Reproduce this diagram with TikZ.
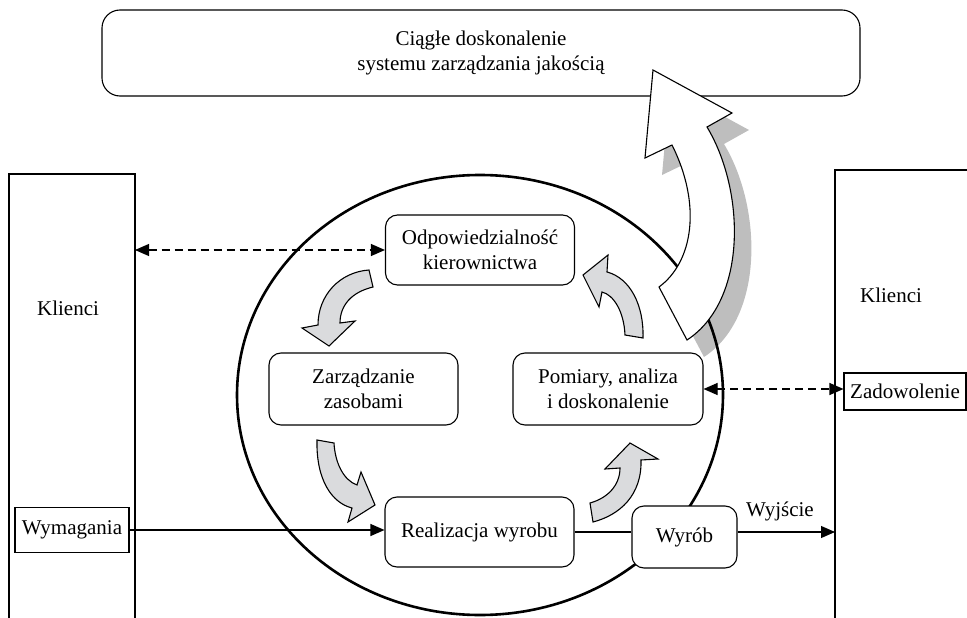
\documentclass[tikz,border=0pt]{standalone}
\usepackage{fontspec}
\setmainfont{Liberation Serif}
\usetikzlibrary{arrows.meta}
\definecolor{arrowgray}{HTML}{DADBDD}
\definecolor{shadowgray}{HTML}{BEBEBE}
\begin{document}
\begin{tikzpicture}[x=1pt,y=-1pt,
  every node/.style={font=\fontsize{21}{25}\selectfont},
  rbox/.style={draw,line width=1.1pt,rounded corners=12pt,fill=white,inner sep=0pt,align=center},
  sqbox/.style={draw,line width=1.1pt,fill=white,inner sep=0pt},
  conn/.style={line width=1.1pt},
  tipend/.style={-{Triangle[length=14pt,width=12pt]}},
  dashboth/.style={{Triangle[length=14pt,width=12pt]}-{Triangle[length=14pt,width=12pt]},dash pattern=on 8pt off 5pt},
  garrow/.style={fill=arrowgray,draw,line width=1.1pt,line join=miter},
  bigarrow/.style={fill=white,draw,line width=1.1pt,line join=miter}]
\useasboundingbox (0,0) rectangle (967,618);

% customer boxes (cut by the picture edge)
\draw[line width=1.1pt] (9,625) |- (135,174) -- (135,625);
\coordinate (clTR) at (135,174);
\draw[line width=1.1pt] (835,625) |- (975,170);
\coordinate (crTL) at (835,170);
\node (kl) at (68,308) {Klienci};
\node (kr) at (891,295) {Klienci};

% top box
\node[rbox,rounded corners=18pt,minimum width=758pt,minimum height=86pt] (top) at (481,53)
  {Ciągłe doskonalenie\\systemu zarządzania jakością};

% shadow of the big arrow
\begin{scope}[shift={(17,17)}]
\fill[shadowgray] (653,70) -- (732,113) -- (707,127) .. controls (745,190) and (748,300) .. (687,340)
  -- (659,287) .. controls (693,262) and (702,205) .. (672,145) -- (645,158) -- cycle;
\end{scope}

% process circle
\draw[line width=2.6pt] (480,395) ellipse [x radius=243, y radius=220];

% big white arrow
\draw[bigarrow] (653,70) -- (732,113) -- (707,127) .. controls (745,190) and (748,300) .. (687,340)
  -- (659,287) .. controls (693,262) and (702,205) .. (672,145) -- (645,158) -- cycle;

% process boxes
\node[rbox,minimum width=189pt,minimum height=70pt] (odp) at (480,250) {Odpowiedzialność\\kierownictwa};
\node[rbox,minimum width=189pt,minimum height=72pt] (zarz) at (363.5,389) {Zarządzanie\\zasobami};
\node[rbox,minimum width=190pt,minimum height=72pt] (pom) at (608,389) {Pomiary, analiza\\i doskonalenie};
\node[rbox,minimum width=189pt,minimum height=70pt] (real) at (479.5,532) {Realizacja wyrobu};
\node[rbox,minimum width=105pt,minimum height=62pt] (wyrob) at (684.5,537) {Wyrób};

% input / output boxes
\node[sqbox,minimum width=114pt,minimum height=45pt] (wym) at (72,530) {Wymagania};
\node[sqbox,minimum width=122pt,minimum height=37pt] (zad) at (905,391.5) {Zadowolenie};

% gray cycle arrows
\draw[garrow] (369,270) .. controls (340,272) and (318,295) .. (318,325) -- (302,328) -- (329,346)
  -- (355,321) -- (340,323) .. controls (340,305) and (352,292) .. (373,287) -- cycle;
\draw[garrow] (317,440) -- (334,443) .. controls (335,462) and (343,480) .. (357,485) -- (361,472)
  -- (375,505) -- (348,522) -- (352,508) .. controls (332,503) and (316,480) .. (317,440) -- cycle;
\draw[garrow] (590,503) -- (593,522) .. controls (620,515) and (642,495) .. (641,460) -- (658,459)
  -- (630,443) -- (605,469) -- (620,468) .. controls (620,485) and (608,498) .. (590,503) -- cycle;
\draw[garrow] (625,335) -- (643,338) .. controls (644,305) and (630,278) .. (607,272) -- (608,255)
  -- (583,275) -- (599,307) -- (602,292) .. controls (614,295) and (624,312) .. (625,335) -- cycle;

% connectors
\draw[conn,dashboth] (odp.west -| clTR) -- (odp.west);
\draw[conn,dashboth] (pom.east) -- (pom.east -| zad.west);
\draw[conn,tipend] (wym.east) -- (wym.east -| real.west);
\draw[conn] (real.east) -- (real.east -| wyrob.west);
\draw[conn,tipend] (real.east -| wyrob.east) -- (real.east -| crTL);
\node (wyj) at (780,511) {Wyjście};
\end{tikzpicture}
\end{document}
